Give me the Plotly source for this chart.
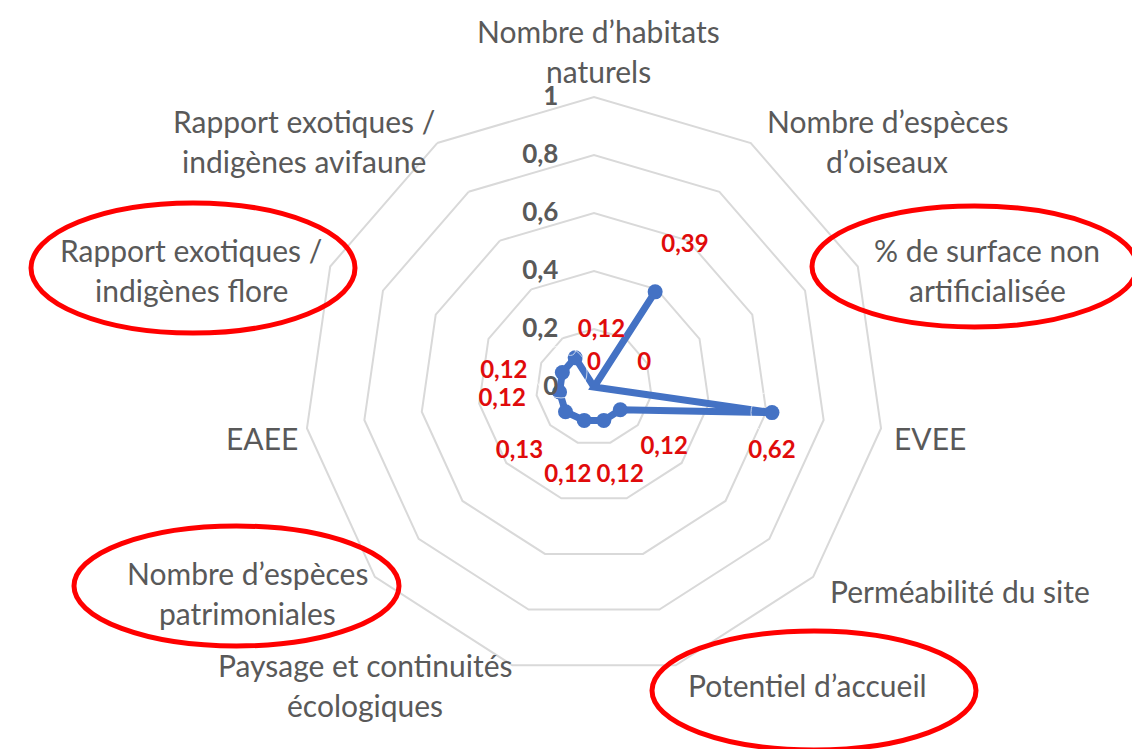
import plotly.graph_objects as go

categories = [
    "Nombre d’habitats<br>naturels",
    "Nombre d’espèces<br>d’oiseaux",
    "% de surface non<br>artificialisée",
    "EVEE",
    "Perméabilité du site",
    "Potentiel d’accueil",
    "Paysage et continuités<br>écologiques",
    "Nombre d’espèces<br>patrimoniales",
    "EAEE",
    "Rapport exotiques /<br>indigènes flore",
    "Rapport exotiques /<br>indigènes avifaune",
]
values = [0, 0.39, 0, 0.62, 0.12, 0.12, 0.12, 0.13, 0.12, 0.12, 0.12]
radial_ticks = [0, 0.2, 0.4, 0.6, 0.8, 1]
highlighted = [
    "% de surface non<br>artificialisée",
    "Potentiel d’accueil",
    "Nombre d’espèces<br>patrimoniales",
    "Rapport exotiques /<br>indigènes flore",
]

W, H = 1140, 749
FONT = "Lato"
GREY = "#595959"

# label centres (pixels) for the category names
label_pos = [
    (591, 43), (879, 133), (979, 262), (922, 430), (952, 583), (799, 677),
    (357, 677), (239, 585), (254, 430), (183, 262), (296, 133),
]
# ellipses around highlighted labels (pixel boxes)
ellipse_boxes = {
    "% de surface non<br>artificialisée": (804, 198, 1129, 319),
    "Potentiel d’accueil": (644, 623, 968, 742),
    "Nombre d’espèces<br>patrimoniales": (66, 518, 391, 638),
    "Rapport exotiques /<br>indigènes flore": (23, 195, 347, 325),
}
# data-label placement: radial offset (in axis units), anchor, spacer size
label_dr = [0.08, 0.19, 0.19, 0.0, 0.2, 0.2, 0.2, 0.21, 0.2, 0.005, 0.03]
label_anchor = ["middle center", "middle center", "middle center", "bottom center",
                "middle center", "middle center", "middle center", "middle center",
                "middle center", "middle left", "top right"]
label_gap = [1, 1, 1, 42, 1, 1, 1, 1, 1, 52, 10]


def fmt(v):
    return ("%g" % v).replace(".", ",")


def px(x):
    return x / W


def py(y):
    return 1 - y / H


cx, cy, R = 586, 379, 290

r_closed = values + [values[0]]
theta_closed = categories + [categories[0]]

fig = go.Figure()
fig.add_trace(go.Scatterpolar(
    r=r_closed, theta=theta_closed, mode="lines+markers",
    line=dict(color="#4472C4", width=7),
    marker=dict(color="#4472C4", size=15),
    showlegend=False, hoverinfo="skip",
))
fig.add_trace(go.Scatterpolar(
    r=[v + d for v, d in zip(values, label_dr)], theta=categories, mode="markers+text",
    marker=dict(size=label_gap, color="rgba(0,0,0,0)"),
    text=[fmt(v) for v in values], textposition=label_anchor,
    textfont=dict(family=FONT, size=24, color="#E00B0B", weight="bold"),
    cliponaxis=False, showlegend=False, hoverinfo="skip",
))

fig.update_layout(
    width=W, height=H,
    margin=dict(l=0, r=0, t=0, b=0),
    paper_bgcolor="white",
    showlegend=False,
    polar=dict(
        domain=dict(x=[px(cx - R), px(cx + R)], y=[py(cy + R), py(cy - R)]),
        bgcolor="white",
        gridshape="linear",
        radialaxis=dict(
            range=[0, 1], tickvals=radial_ticks,
            ticktext=[fmt(t) for t in radial_ticks],
            angle=90, side="counterclockwise", tickangle=90,
            showline=False, ticks="outside", ticklen=26, tickcolor="rgba(0,0,0,0)",
            gridcolor="#D9D9D9", gridwidth=2,
            tickfont=dict(family=FONT, size=26, color=GREY, weight="bold"),
        ),
        angularaxis=dict(
            rotation=90, direction="clockwise",
            showticklabels=False, ticks="",
            showgrid=False, showline=True, linecolor="#D9D9D9", linewidth=2,
        ),
    ),
)

annotations = []
for cat, (lx, ly) in zip(categories, label_pos):
    lines = cat.split("<br>")
    n = len(lines)
    for i, line in enumerate(lines):
        yy = ly + (i - (n - 1) / 2) * 40
        annotations.append(dict(
            x=px(lx), y=py(yy), xref="paper", yref="paper",
            text=line, showarrow=False, xanchor="center", yanchor="middle",
            font=dict(family=FONT, size=30, color=GREY),
        ))
fig.update_layout(annotations=annotations)

shapes = []
for cat in highlighted:
    x0, y0, x1, y1 = ellipse_boxes[cat]
    shapes.append(dict(
        type="circle", xref="paper", yref="paper",
        x0=px(x0), x1=px(x1), y0=py(y1), y1=py(y0),
        line=dict(color="#FF0000", width=5),
    ))
fig.update_layout(shapes=shapes)

fig.write_html("out.html")
